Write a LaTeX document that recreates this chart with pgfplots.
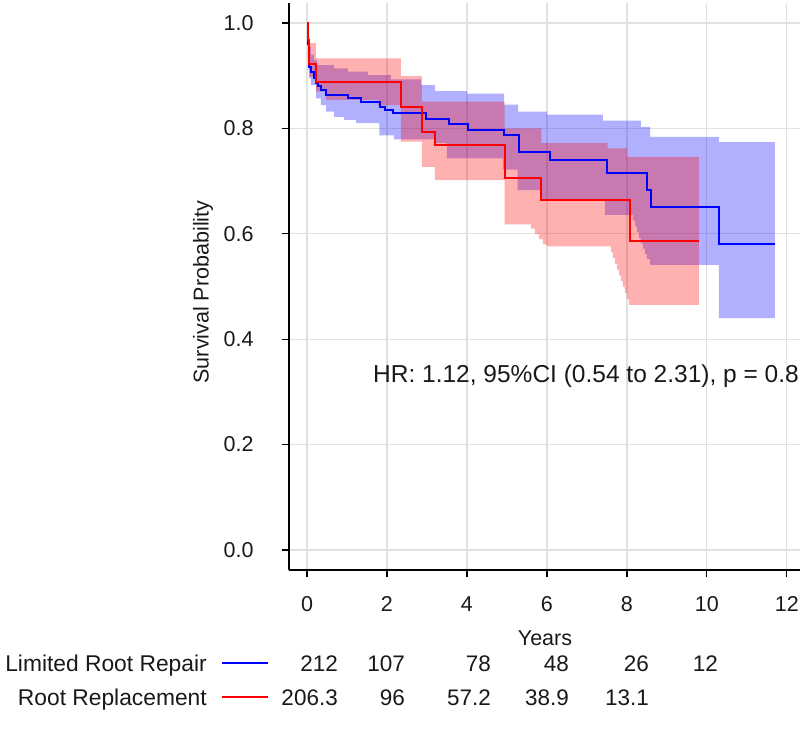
\documentclass[border=0pt]{standalone}
\usepackage{fontspec}
\setmainfont{Liberation Sans}
\usepackage{pgfplots}
\pgfplotsset{compat=1.18}
\usepgfplotslibrary{fillbetween}
\definecolor{gridgray}{RGB}{225,225,225}
\definecolor{txt}{RGB}{25,25,25}
\begin{document}
\begin{tikzpicture}[x=1pt,y=1pt]
\begin{axis}[
  at={(289pt,-570pt)}, anchor=south west,
  scale only axis, width=511pt, height=567pt,
  xmin=-0.45, xmax=12.33, ymin=-0.038, ymax=1.038,
  axis lines=left, axis line style={-, line width=1.4pt, black},
  xtick={0,2,4,6,8,10,12}, ytick={0,0.2,0.4,0.6,0.8,1},
  grid=major, major grid style={gridgray, line width=1.3pt},
  tick align=outside, major tick length=7pt, tick style={black, line width=1.3pt},
  /pgf/number format/assume math mode=true,
  tick label style={font=\fontsize{21.5}{26}\selectfont, text=txt},
  yticklabel style={/pgf/number format/fixed, /pgf/number format/fixed zerofill, /pgf/number format/precision=1, xshift=-25pt},
  xticklabel style={yshift=-16pt},
  clip=false,
]
% Limited Root Repair band
\addplot[name path=bu, draw=none, const plot, forget plot] coordinates {
(0,1.0) (0.02,0.99) (0.04,0.975) (0.06,0.955) (0.10,0.94) (0.18,0.93) (0.25,0.92) (0.68,0.914) (1.02,0.908) (1.52,0.901) (2.10,0.893) (2.85,0.882) (3.20,0.871) (4.00,0.866) (4.93,0.845) (5.28,0.832) (6.00,0.826) (7.40,0.815) (8.35,0.803) (8.58,0.784) (10.30,0.774) (11.70,0.774)};
\addplot[name path=bl, draw=none, const plot, forget plot] coordinates {
(0,1.0) (0.02,0.93) (0.04,0.91) (0.06,0.895) (0.10,0.882) (0.23,0.857) (0.35,0.844) (0.48,0.832) (0.68,0.822) (0.93,0.816) (1.23,0.81) (1.81,0.787) (2.18,0.779) (3.20,0.772) (3.50,0.743) (4.90,0.722) (5.27,0.683) (5.85,0.665) (7.45,0.636) (8.15,0.625) (8.20,0.614) (8.25,0.603) (8.30,0.592) (8.35,0.582) (8.40,0.572) (8.45,0.562) (8.50,0.552) (8.58,0.541) (10.30,0.44) (11.70,0.44)};
\addplot[fill=blue, fill opacity=0.31, draw=none, forget plot] fill between[of=bu and bl];
% Root Replacement band
\addplot[name path=ru, draw=none, const plot, forget plot] coordinates {
(0,1.0) (0.02,0.995) (0.05,0.962) (0.23,0.933) (2.35,0.899) (2.87,0.851) (4.94,0.80) (5.86,0.772) (7.52,0.762) (8.00,0.746) (9.80,0.746)};
\addplot[name path=rl, draw=none, const plot, forget plot] coordinates {
(0,1.0) (0.02,0.93) (0.05,0.898) (0.23,0.87) (0.48,0.854) (1.77,0.844) (2.35,0.775) (2.87,0.727) (3.20,0.702) (4.94,0.618) (5.60,0.61) (5.70,0.60) (5.80,0.59) (5.90,0.58) (6.00,0.576) (7.60,0.565) (7.65,0.554) (7.70,0.543) (7.75,0.532) (7.80,0.521) (7.85,0.510) (7.90,0.499) (7.95,0.488) (8.00,0.476) (8.05,0.465) (9.80,0.465)};
\addplot[fill=red, fill opacity=0.31, draw=none, forget plot] fill between[of=ru and rl];
% survival curves
\addplot[blue, line width=2pt, const plot] coordinates {
(0,1.0) (0.02,0.96) (0.04,0.935) (0.06,0.917) (0.10,0.907) (0.18,0.895) (0.23,0.886) (0.28,0.88) (0.36,0.873) (0.48,0.864) (1.02,0.858) (1.35,0.851) (1.83,0.841) (1.95,0.835) (2.16,0.829) (2.98,0.817) (3.55,0.808) (4.03,0.797) (4.92,0.787) (5.29,0.756) (6.08,0.740) (7.50,0.716) (8.50,0.684) (8.60,0.651) (10.30,0.580) (11.70,0.580)};
\addplot[red, line width=2pt, const plot] coordinates {
(0,1.0) (0.02,0.967) (0.05,0.922) (0.23,0.889) (2.35,0.84) (2.87,0.794) (3.20,0.769) (4.94,0.706) (5.86,0.664) (8.08,0.586) (9.80,0.586)};
\end{axis}
\begin{scope}[every node/.style={text=txt, inner sep=0pt}]
\node[font=\fontsize{24.5}{28}\selectfont, anchor=base west] at (373,-382) {HR: 1.12, 95\%CI (0.54 to 2.31), p = 0.8};
\node[font=\fontsize{21.5}{26}\selectfont, rotate=90] at (203,-292) {Survival Probability};
\node[font=\fontsize{21.5}{26}\selectfont, anchor=base] at (545,-645) {Years};
\node[font=\fontsize{22.8}{26}\selectfont, anchor=base east] at (207,-671) {Limited Root Repair};
\node[font=\fontsize{22.8}{26}\selectfont, anchor=base east] at (207,-705) {Root Replacement};
\draw[blue, line width=2pt] (222,-663) -- (268,-663);
\draw[red, line width=2pt] (222,-697) -- (268,-697);
\foreach \x/\v in {338/212, 405/107, 491/78, 569/48, 649/26, 718/12}
  \node[font=\fontsize{22.5}{26}\selectfont, anchor=base east] at (\x,-671) {\v};
\foreach \x/\v in {338/206.3, 405/96, 491/57.2, 569/38.9, 649/13.1}
  \node[font=\fontsize{22.5}{26}\selectfont, anchor=base east] at (\x,-705) {\v};
\end{scope}
\pgfresetboundingbox
\path[use as bounding box] (0,0) rectangle (800,-742);
\end{tikzpicture}
\end{document}
